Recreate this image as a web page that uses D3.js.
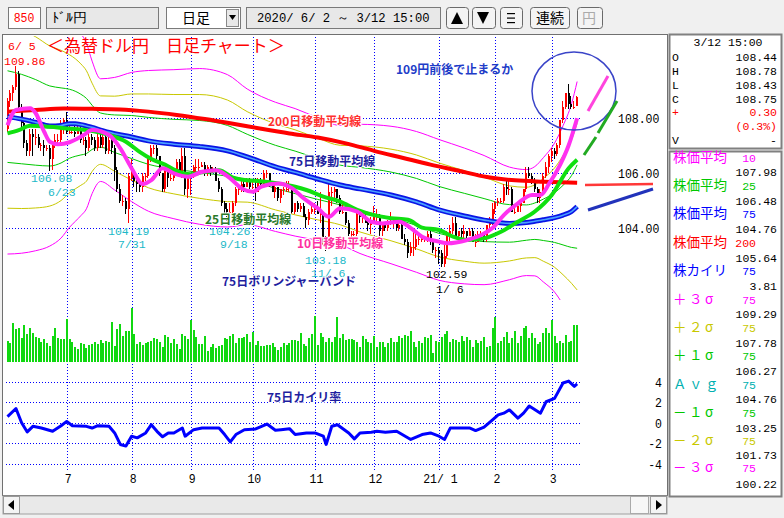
<!DOCTYPE html>
<html><head><meta charset="utf-8">
<script src="https://cdn.jsdelivr.net/npm/d3@7"></script>
<style>body{margin:0;background:#f0f0f0;}svg{display:block}</style>
</head><body><svg id="c" width="784" height="518"></svg>
<script>
// ---------------- DATA ----------------
// OHLC per trading day, 2020/6/2 .. 2021/3/12
const ohlc = [
// Jun
[107.6,108.7,107.5,108.6],[108.6,109.0,108.4,108.9],[108.9,109.2,108.6,109.1],[109.1,109.86,109.0,109.6],[109.6,109.7,108.3,108.4],
[108.4,108.5,107.6,107.8],[107.8,107.9,106.9,107.1],[107.1,107.2,106.6,106.8],[106.8,107.6,106.6,107.4],[107.4,107.6,106.6,107.3],
[107.3,107.6,107.0,107.3],[107.3,107.4,106.9,107.0],[107.0,107.1,106.8,107.0],[107.0,107.2,106.6,106.9],[106.9,107.0,106.8,106.9],
[106.9,107.0,106.08,106.5],[106.5,107.0,106.1,107.0],[107.0,107.4,106.9,107.2],[107.2,107.4,107.0,107.2],[107.2,107.9,107.0,107.6],[107.6,108.0,107.4,107.9],
// Jul
[107.9,108.2,107.4,107.5],[107.5,107.7,107.4,107.5],[107.5,107.6,107.4,107.5],[107.5,107.8,107.3,107.4],[107.4,107.8,107.4,107.6],
[107.6,107.7,107.1,107.2],[107.2,107.4,107.0,107.2],[107.2,107.3,106.6,106.9],[106.9,107.6,106.8,107.3],[107.3,107.4,107.0,107.2],
[107.2,107.3,106.8,106.9],[106.9,107.4,106.8,107.3],[107.3,107.4,106.9,107.0],[107.0,107.4,106.9,107.3],[107.3,107.4,106.7,106.8],
[106.8,107.3,106.7,107.2],[107.2,107.3,106.7,106.9],[106.9,107.0,105.7,106.1],[106.1,106.2,105.3,105.4],[105.4,105.6,104.9,105.0],
[105.0,105.2,104.8,105.0],[105.0,105.1,104.5,104.7],[104.7,106.0,104.19,105.9],
// Aug
[105.8,106.5,105.7,106.0],[106.0,106.1,105.5,105.7],[105.7,105.9,105.3,105.6],[105.6,105.7,105.3,105.5],[105.5,106.0,105.3,105.9],
[105.9,106.0,105.7,105.9],[105.9,106.6,105.8,106.5],[106.5,107.0,106.4,106.9],[106.9,107.0,106.7,106.9],[106.9,107.0,106.5,106.6],
[106.6,106.6,105.9,106.0],[106.0,106.0,105.3,105.4],[105.4,106.2,105.3,106.1],[106.1,106.1,105.5,105.8],[105.8,106.0,105.7,105.8],
[105.8,106.1,105.7,106.0],[106.0,106.5,105.9,106.4],[106.4,106.5,105.9,106.0],[106.0,106.9,105.8,106.6],[106.6,106.9,105.2,105.4],[105.4,105.9,105.1,105.9],
// Sep
[105.9,106.0,105.2,105.9],[105.9,106.3,105.8,106.2],[106.2,106.5,106.0,106.2],[106.2,106.5,106.0,106.2],[106.2,106.4,106.2,106.3],
[106.3,106.4,105.9,106.0],[106.0,106.3,105.9,106.2],[106.2,106.3,105.9,106.1],[106.1,106.2,106.0,106.1],[106.1,106.2,105.7,105.7],
[105.7,105.8,105.3,105.4],[105.4,105.5,104.8,104.9],[104.9,105.0,104.5,104.7],[104.7,104.9,104.26,104.6],[104.6,104.9,104.3,104.6],
[104.6,105.0,104.5,104.9],[104.9,105.5,104.8,105.4],[105.4,105.5,105.2,105.4],[105.4,105.7,105.3,105.6],[105.6,105.7,105.3,105.5],
[105.5,105.8,105.5,105.7],[105.7,105.8,105.4,105.5],
// Oct
[105.5,105.7,105.4,105.5],[105.5,105.8,105.0,105.3],[105.3,105.8,105.3,105.7],[105.7,105.8,105.5,105.6],[105.6,106.1,105.6,106.0],
[106.0,106.1,105.8,106.0],[106.0,106.0,105.5,105.6],[105.6,105.6,105.3,105.3],[105.3,105.6,105.1,105.5],[105.5,105.5,105.0,105.1],
[105.1,105.4,104.9,105.4],[105.4,105.5,105.2,105.4],[105.4,105.7,105.3,105.4],[105.4,105.7,105.3,105.5],[105.5,105.5,104.5,104.6],
[104.6,104.9,104.5,104.9],[104.9,105.0,104.6,104.7],[104.7,104.9,104.6,104.8],[104.8,104.9,104.4,104.4],[104.4,104.5,104.0,104.3],
[104.3,104.7,104.1,104.6],[104.6,104.9,104.5,104.7],
// Nov
[104.7,104.9,104.5,104.7],[104.7,105.0,104.5,104.5],[104.5,105.3,104.2,104.5],[104.5,104.6,103.4,103.5],[103.5,103.7,103.18,103.4],
[103.4,105.65,103.2,105.3],[105.3,105.5,104.8,105.3],[105.3,105.5,105.1,105.4],[105.4,105.4,104.9,105.1],[105.1,105.2,104.5,104.6],
[104.6,104.9,104.5,104.6],[104.6,104.6,104.1,104.2],[104.2,104.3,103.7,103.8],[103.8,103.9,103.6,103.8],[103.8,103.9,103.7,103.8],
[103.8,104.6,103.7,104.5],[104.5,104.7,104.2,104.4],[104.4,104.6,104.2,104.4],[104.4,104.5,104.2,104.2],[104.2,104.3,103.9,104.1],[104.1,104.4,103.8,104.3],
// Dec
[104.3,104.8,104.2,104.4],[104.4,104.7,104.2,104.4],[104.4,104.5,103.7,103.9],[103.9,104.2,103.7,104.2],[104.2,104.2,103.9,104.0],
[104.0,104.3,103.9,104.2],[104.2,104.6,104.1,104.2],[104.2,104.4,104.0,104.3],[104.3,104.3,103.9,104.0],[104.0,104.2,103.9,104.1],
[104.1,104.2,103.6,103.6],[103.6,103.8,103.4,103.5],[103.5,103.6,102.9,103.1],[103.1,103.5,103.0,103.3],[103.3,103.9,103.0,103.3],
[103.3,103.8,103.2,103.6],[103.6,103.7,103.4,103.6],[103.6,103.7,103.5,103.6],[103.6,103.7,103.5,103.6],[103.6,103.9,103.5,103.8],
[103.8,103.9,103.4,103.5],[103.5,103.6,103.1,103.2],[103.2,103.3,102.9,103.2],
// Jan
[103.2,103.3,102.7,103.1],[103.1,103.2,102.6,102.7],[102.7,103.4,102.59,103.0],[103.0,103.9,102.9,103.8],[103.8,104.1,103.5,103.9],
[103.9,104.4,103.8,104.2],[104.2,104.4,103.6,103.7],[103.7,103.9,103.5,103.9],[103.9,104.0,103.6,103.8],[103.8,104.1,103.6,103.9],
[103.9,103.9,103.5,103.7],[103.7,104.0,103.7,103.9],[103.9,104.0,103.5,103.5],[103.5,103.8,103.3,103.5],[103.5,103.9,103.5,103.8],
[103.8,103.9,103.6,103.8],[103.8,103.8,103.5,103.6],[103.6,104.1,103.5,104.1],[104.1,104.4,104.0,104.2],[104.2,104.9,104.1,104.7],
// Feb
[104.7,105.0,104.5,104.9],[104.9,105.1,104.8,105.0],[105.0,105.1,104.9,105.0],[105.0,105.6,104.9,105.5],[105.5,105.8,105.2,105.4],
[105.4,105.7,105.2,105.4],[105.4,105.5,104.6,104.6],[104.6,104.8,104.5,104.6],[104.6,104.9,104.6,104.8],[104.8,105.0,104.6,104.9],
[104.9,105.4,104.9,105.4],[105.4,106.2,105.3,106.0],[106.0,106.2,105.8,105.9],[105.9,106.0,105.6,105.7],[105.7,105.8,105.3,105.4],
[105.4,105.5,104.9,105.1],[105.1,105.4,104.9,105.3],[105.3,106.0,105.2,105.9],[105.9,106.4,105.8,106.2],[106.2,106.7,106.0,106.6],
// Mar
[106.6,106.9,106.4,106.8],[106.8,106.9,106.5,106.7],[106.7,107.1,106.6,107.0],[107.0,107.9,106.9,107.9],[107.9,108.6,107.8,108.4],
[108.4,108.9,108.3,108.9],[108.9,109.23,108.3,108.5],[108.5,108.8,108.3,108.4],[108.4,108.6,108.3,108.4],[108.44,108.78,108.43,108.75]
];
const volume = [
62,56,116,98,101,71,110,83,101,86,74,71,59,68,56,47,77,101,71,68,68,128,
68,59,44,38,56,53,41,50,53,59,53,65,56,62,60,119,47,98,113,77,92,92,
161,
83,53,59,50,56,59,62,71,68,59,44,80,74,55,68,53,38,83,77,68,
125,
95,74,53,53,77,32,44,53,41,47,50,71,68,77,83,56,71,71,74,83,60,89,50,62,47,47,50,50,56,44,35,44,56,50,56,65,65,62,86,53,47,71,83,
137,
50,86,74,60,70,
60,75,133,72,82,65,67,68,64,59,45,77,68,60,55,
77,45,58,60,45,57,70,58,60,77,70,80,77,92,60,45,62,55,75,70,80,25,62,
60,75,82,92,58,68,65,60,77,62,75,65,45,65,57,62,75,45,48,102,
133,57,63,75,88,57,72,92,57,77,100,107,70,85,70,52,60,85,102,85,
125,77,57,63,57,80,60,63,110,110
];
// moving averages, [bar index, value]
const ma200 = [[0,108.22],[10,108.28],[20,108.33],[30,108.32],[40,108.3],[50,108.22],[60,108.1],[70,107.95],[80,107.78],[90,107.6],[100,107.43],[110,107.28],[120,107.07],[130,106.8],[140,106.55],[150,106.3],[160,106.08],[170,105.85],[180,105.73],[190,105.68],[202,105.64]];
const ma25 = [[0,107.43],[4,107.55],[8,107.71],[15,107.67],[21,107.61],[28,107.55],[36,107.37],[42,107.13],[47,106.75],[51,106.5],[56,106.29],[59,106.12],[65,105.95],[69,106.02],[75,106.1],[80,105.83],[84,105.74],[90,105.7],[96,105.62],[102,105.5],[106,105.38],[112,105.14],[118,104.96],[124,104.66],[130,104.47],[136,104.36],[142,104.3],[147,104.02],[153,103.93],[158,103.69],[163,103.57],[169,103.63],[175,103.87],[181,104.23],[187,104.6],[193,105.2],[199,106.17],[202,106.48]];
const ma10 = [[0,107.73],[3,108.28],[8,108.34],[10,108.16],[13,107.49],[15,107.13],[18,107.04],[22,107.11],[27,107.37],[30,107.55],[36,107.37],[40,106.89],[44,106.17],[48,105.6],[51,105.74],[55,106.17],[59,105.98],[64,105.86],[69,106.04],[74,106.1],[79,105.8],[83,105.44],[87,105.32],[90,105.5],[96,105.62],[101,105.44],[105,105.08],[110,104.72],[114,104.41],[118,104.72],[124,104.6],[129,104.23],[133,104.17],[139,104.23],[143,104.0],[147,103.69],[153,103.51],[156,103.45],[163,103.57],[168,103.75],[172,104.0],[176,104.47],[181,104.9],[186,105.2],[189,105.2],[192,105.6],[196,106.3],[199,107.0],[202,107.98]];
// 75-day average (Bollinger centre) and 75-day sigma at the same bars
const bbIdx  = [0,5,10,15,19,22,24,26,28,30,33,38,44,50,59,68,78,85,95,102,110,118,125,136,145,153,162,169,178,184,187,190,194,197,200,202];
const ma75   = [108.04,107.95,107.83,107.7,107.72,107.78,107.78,107.75,107.7,107.65,107.55,107.42,107.3,107.16,107.04,106.96,106.8,106.58,106.22,106.02,105.78,105.56,105.42,105.2,104.95,104.66,104.44,104.29,104.17,104.2,104.25,104.3,104.38,104.47,104.6,104.78];
const sd75   = [1.66,1.62,1.55,1.45,1.36,1.25,1.18,1.1,1.0,0.8,0.62,0.68,0.78,0.85,0.9,0.94,0.92,0.82,0.78,0.77,0.74,0.72,0.78,0.83,0.85,0.85,0.82,0.78,0.68,0.64,0.66,0.75,0.9,1.08,1.3,1.51];
// 75-day deviation (%)
const dev75 = [[0,0.6],[3,1.4],[5,0],[7,-0.9],[9,-0.35],[12,-0.52],[16,-0.84],[19,-0.29],[21,0.13],[23,-0.29],[28,-0.35],[30,-0.52],[32,-0.29],[36,-0.35],[38,-1.0],[40,-2.13],[42,-2.29],[44,-1.32],[46,-1.48],[49,-1.0],[51,-0.19],[53,-0.84],[55,-1.38],[57,-1.0],[59,-1.0],[62,-0.52],[63,-1.32],[66,-0.68],[69,-0.52],[75,-0.52],[77,-1.16],[79,-1.87],[81,-1.16],[84,-0.68],[88,-0.61],[92,-0.13],[95,-0.74],[97,-0.68],[100,-0.58],[102,-1.16],[106,-1.0],[109,-1.0],[112,-1.32],[113,-2.13],[115,-0.35],[117,-0.19],[121,-1.0],[123,-1.58],[125,-1.0],[129,-0.93],[131,-0.84],[134,-0.93],[138,-0.84],[143,-1.64],[147,-1.16],[150,-1.0],[153,-1.32],[155,-1.64],[157,-0.52],[164,-0.52],[166,-0.77],[169,-0.42],[172,0.29],[174,0.77],[176,0.94],[178,1.26],[181,0.45],[183,0.94],[185,1.64],[189,0.94],[191,2.06],[194,2.39],[197,3.9],[199,4.09],[201,3.57],[202,3.81]];
const priceTicks = [108,106,104];
const devTicks = [4,2,0,-2,-4];
const monthLabels = ["7","8","9","10","11","12","21/ 1","2","3"];
const lowHighMarks = [
  {i:3, v:"109.86", d:"6/ 5"},{i:15,v:"106.08",d:"6/23"},{i:43,v:"104.19",d:"7/31"},
  {i:78,v:"104.26",d:"9/18"},{i:113,v:"103.18",d:"11/ 6"},{i:155,v:"102.59",d:"1/ 6"}];
const panelInfo = {date:"3/12 15:00", rows:[["O","108.44"],["H","108.78"],["L","108.43"],["C","108.75"]], chg:"0.30", pct:"(0.3%)"};
const panelInd = [
  ["株価平均","10","107.98","#ff00ff"],["株価平均","25","106.48","#00c800"],["株価平均","75","104.76","#0000ff"],
  ["株価平均","200","105.64","#ff0000"],["株カイリ","75","3.81","#0000ff"],
  ["＋３σ","75","109.29","#ff00ff"],["＋２σ","75","107.78","#c8c800"],["＋１σ","75","106.27","#00c800"],
  ["Ａｖｇ","75","104.76","#00b0b0"],["－１σ","75","103.25","#00c800"],["－２σ","75","101.73","#c8c800"],["－３σ","75","100.22","#ff00ff"]];

// trading-day categories (weekdays, 1/1 excluded)
const dates = [];
for (let d = new Date(Date.UTC(2020,5,2)); d <= new Date(Date.UTC(2021,2,12)); d.setUTCDate(d.getUTCDate()+1)) {
  const w = d.getUTCDay(); if (w===0||w===6) continue;
  if (d.getUTCFullYear()===2021 && d.getUTCMonth()===0 && d.getUTCDate()===1) continue;
  dates.push(new Date(d));
}

// ---------------- DRAW ----------------
const svg = d3.select('#c');
const N = ohlc.length;
const x = d3.scaleLinear().domain([0, N-1]).range([7.5, 7.5+2.82*(N-1)]);
const y = d3.scaleLinear().domain([104,108]).range([228.1,117.7]);
const yd = d3.scaleLinear().domain([-4,4]).range([463.5,382]);
const yv = d3.scaleLinear().domain([0,161]).range([361.7,308]);

function units(s){let u=0;for(const ch of s){const c=ch.codePointAt(0);u+=(c>0x2E80&&!(c>=0xFF61&&c<=0xFF9F))?2:1;}return u;}
function mono(g,x0,y0,s,color,anchor,sy){
  const cw=6.9, w=units(s)*cw; sy=sy||1.15;
  let xs=x0; if(anchor==='end') xs=x0-w; else if(anchor==='middle') xs=x0-w/2;
  return g.append('text').attr('transform',`translate(${xs},${y0}) scale(1,${sy})`).attr('x',0).attr('y',0).attr('fill',color||'#000')
    .attr('font-family','"Liberation Mono","DejaVu Sans Mono",monospace').attr('font-size',11.5)
    .attr('textLength',w).attr('lengthAdjust','spacingAndGlyphs').text(s);
}
function jp(g,x0,y0,s,color,size,weight){
  return g.append('text').attr('x',x0).attr('y',y0).attr('fill',color)
   .attr('font-family','"Noto Sans CJK JP","Noto Sans CJK SC",sans-serif').attr('font-size',size||14)
   .attr('font-weight',weight||'normal').text(s);
}

svg.append('rect').attr('width',784).attr('height',518).attr('fill','#f0f0f0');
// ---- toolbar
const tb = svg.append('g');
function box(x0,y0,w,h,fill){ tb.append('rect').attr('x',x0+.5).attr('y',y0+.5).attr('width',w).attr('height',h).attr('fill',fill).attr('stroke','#7a7a7a'); }
function btn(x0,y0,w,h){ tb.append('rect').attr('x',x0+.5).attr('y',y0+.5).attr('width',w).attr('height',h).attr('rx',3).attr('fill','#f4f4f4').attr('stroke','#6a6a6a'); }
box(8,7,32,21,'#fff'); mono(tb,24,22,"850","#ff0000",'middle');
box(46,7,112,21,'#e8e8e8'); mono(tb,52,22,"ﾄﾞﾙ円","#000");
box(166,7,74,21,'#fff'); jp(tb,182,23,"日足","#000",14);
tb.append('rect').attr('x',226.5).attr('y',9.5).attr('width',12).attr('height',17).attr('fill','#e8e8e8').attr('stroke','#888');
tb.append('path').attr('d','M229,15 L236,15 L232.5,20 Z').attr('fill','#000');
box(246,7,194,21,'#e8e8e8'); mono(tb,257,22,"2020/ 6/ 2 ～  3/12 15:00","#000");
btn(446,7,22,21); tb.append('path').attr('d','M451,24 L463,24 L457,12 Z').attr('fill','#000');
btn(472,7,23,21); tb.append('path').attr('d','M477,12 L489,12 L483,24 Z').attr('fill','#000');
btn(500,7,22,21); [13,17.5,22].forEach(yy=>tb.append('rect').attr('x',507).attr('y',yy).attr('width',8).attr('height',1.2).attr('fill','#000'));
btn(530,7,39,21); jp(tb,536,23,"連続","#000",14);
btn(577,7,25,21); jp(tb,582,23,"円","#aaaaaa",14);

// ---- frames
svg.append('rect').attr('x',2.5).attr('y',34.5).attr('width',665).attr('height',461).attr('fill','#fff').attr('stroke','#707070');
svg.append('rect').attr('x',669.5).attr('y',34.5).attr('width',112).attr('height',114).attr('fill','#fff').attr('stroke','#808080').attr('stroke-width',2);
svg.append('rect').attr('x',669.5).attr('y',151.5).attr('width',112).attr('height',345).attr('fill','#fff').attr('stroke','#808080').attr('stroke-width',2);
// scrollbar
const sb = svg.append('g');
sb.append('rect').attr('x',3).attr('y',496).attr('width',664).attr('height',18).attr('fill','#e9e9e9').attr('stroke','#a0a0a0');
sb.append('rect').attr('x',3.5).attr('y',496.5).attr('width',16).attr('height',17).attr('fill','#f4f4f4').attr('stroke','#999');
sb.append('path').attr('d','M8,505 L14,500 L14,510 Z').attr('fill','#000');
sb.append('rect').attr('x',630.5).attr('y',496.5).attr('width',18).attr('height',17).attr('fill','#f7f7f7').attr('stroke','#aaa');
sb.append('rect').attr('x',650.5).attr('y',496.5).attr('width',16).attr('height',17).attr('fill','#f4f4f4').attr('stroke','#999');
sb.append('path').attr('d','M662,505 L656,500 L656,510 Z').attr('fill','#000');

// ---- grid
const grid = svg.append('g').attr('stroke','#0000ff').attr('stroke-dasharray','1,2').attr('shape-rendering','crispEdges');
const monthIdx = dates.map((d,i)=>i).filter(i=>i>0 && dates[i].getUTCMonth()!==dates[i-1].getUTCMonth());
monthIdx.forEach(i=>grid.append('line').attr('x1',Math.round(x(i))+.5).attr('x2',Math.round(x(i))+.5).attr('y1',37).attr('y2',470));
priceTicks.forEach(p=>grid.append('line').attr('x1',6).attr('x2',582).attr('y1',Math.round(y(p))+.5).attr('y2',Math.round(y(p))+.5));
devTicks.forEach(p=>grid.append('line').attr('x1',6).attr('x2',582).attr('y1',Math.round(yd(p))+.5).attr('y2',Math.round(yd(p))+.5));

// ---- main panel
svg.append('clipPath').attr('id','mc').append('rect').attr('x',3).attr('y',36).attr('width',580).attr('height',264);
const main = svg.append('g').attr('clip-path','url(#mc)');
const line = d3.line().x(d=>x(d[0])).y(d=>y(d[1])).curve(d3.curveMonotoneX);
const bands = [[3,'#ff00ff'],[2,'#c8c800'],[1,'#00c800'],[-1,'#00c800'],[-2,'#c8c800'],[-3,'#ff00ff']];
bands.forEach(([k,c])=>{
  const pts = bbIdx.map((ix,j)=>[ix, ma75[j]+k*sd75[j]]);
  main.append('path').attr('d',line(pts)).attr('fill','none').attr('stroke',c).attr('stroke-width',1);
});
// candles
const cg = main.append('g').attr('shape-rendering','crispEdges');
ohlc.forEach((d,i)=>{
  const [o,h,l,c]=d; const col = c>=o ? '#ff0000' : '#000000';
  const cx = Math.round(x(i));
  cg.append('rect').attr('x',cx-1).attr('y',y(h)).attr('width',1).attr('height',Math.max(1,y(l)-y(h))).attr('fill',col);
  const t=Math.min(y(o),y(c)), b=Math.max(y(o),y(c));
  cg.append('rect').attr('x',cx-1).attr('y',t).attr('width',2).attr('height',Math.max(1,b-t)).attr('fill',col);
});
main.append('path').attr('d',line(ma200)).attr('fill','none').attr('stroke','#ff0000').attr('stroke-width',4);
const ma75pts = bbIdx.map((ix,j)=>[ix,ma75[j]]);
main.append('path').attr('d',line(ma75pts)).attr('fill','none').attr('stroke','#0a14e6').attr('stroke-width',5);
main.append('path').attr('d',line(ma75pts)).attr('fill','none').attr('stroke','#4aa0ff').attr('stroke-width',1.6);
main.append('path').attr('d',line(ma25)).attr('fill','none').attr('stroke','#10e010').attr('stroke-width',4);
main.append('path').attr('d',line(ma10)).attr('fill','none').attr('stroke','#ff30f0').attr('stroke-width',4);

// high/low marks
const cyan = '#20b8c8';
const mk = svg.append('g');
mono(mk,8,50,lowHighMarks[0].d,'#ff0000',null,1); mono(mk,4,65,lowHighMarks[0].v,'#ff0000',null,1);
mono(mk,31,182,lowHighMarks[1].v,cyan,null,1); mono(mk,48,196,lowHighMarks[1].d,cyan,null,1);
mono(mk,108,235,lowHighMarks[2].v,cyan,null,1); mono(mk,118,248,lowHighMarks[2].d,cyan,null,1);
mono(mk,209,235,lowHighMarks[3].v,cyan,null,1); mono(mk,220,248,lowHighMarks[3].d,cyan,null,1);
mono(mk,305,264,lowHighMarks[4].v,cyan,null,1); mono(mk,311,277,lowHighMarks[4].d,cyan,null,1);
mono(mk,426,278,lowHighMarks[5].v,'#000',null,1); mono(mk,436,293,lowHighMarks[5].d,'#000',null,1);

// title & annotations
jp(svg,47,52,"＜為替ドル円　日足チャート＞","#ff0000",17);
function note(x0,y0,s,c){ jp(svg,x0,y0,s,c,12,'bold').attr('stroke','#fff').attr('stroke-width',2).attr('paint-order','stroke'); }
note(396,74,"109円前後で止まるか","#1e3cc8");
note(268,126,"200日移動平均線","#ff3030");
note(289,166,"75日移動平均線","#1e1ea0");
note(205,224,"25日移動平均線","#2a7a2a");
note(297,248,"10日移動平均線","#ff30a0");
note(222,286,"75日ボリンジャーバンド","#1e1ea0");
note(267,402,"75日カイリ率","#1e1ea0");
svg.append('ellipse').attr('cx',574).attr('cy',91).attr('rx',42).attr('ry',39).attr('fill','none').attr('stroke','#3a44c8').attr('stroke-width',1.5);
svg.append('line').attr('x1',588).attr('y1',111).attr('x2',608).attr('y2',76).attr('stroke','#ff44dd').attr('stroke-width',3);
svg.append('line').attr('x1',584).attr('y1',155).attr('x2',596).attr('y2',137).attr('stroke','#22aa22').attr('stroke-width',3);
svg.append('line').attr('x1',598).attr('y1',133).attr('x2',617).attr('y2',101).attr('stroke','#22aa22').attr('stroke-width',3);
svg.append('line').attr('x1',585).attr('y1',185).attr('x2',653).attr('y2',184).attr('stroke','#ff3838').attr('stroke-width',2.5);
svg.append('line').attr('x1',588).attr('y1',210).attr('x2',653).attr('y2',189).attr('stroke','#2233bb').attr('stroke-width',3);

// price axis labels
priceTicks.forEach(p=>mono(svg,618,y(p)+5,p.toFixed(2),'#000'));

// ---- volume
const vg = svg.append('g').attr('shape-rendering','crispEdges');
volume.forEach((v,i)=>vg.append('rect').attr('x',Math.round(x(i))-1).attr('y',yv(v)).attr('width',2).attr('height',yv(0)-yv(v)).attr('fill','#10d810'));

// ---- deviation
const dl = d3.line().x(d=>x(d[0])).y(d=>yd(d[1]));
svg.append('path').attr('d',dl(dev75)).attr('fill','none').attr('stroke','#0000ff').attr('stroke-width',3).attr('stroke-linejoin','round');
devTicks.forEach(t=>mono(svg,662,yd(t)+5,String(t),'#000','end'));

// month labels
monthIdx.forEach((i,k)=>mono(svg,x(i)+1.5,483,monthLabels[k],'#000','middle'));

// ---- right panel
const rp = svg.append('g');
mono(rp,728,46,panelInfo.date,'#000','middle',1);
panelInfo.rows.forEach((r,k)=>{ mono(rp,672,61+k*14,r[0],'#000',null,1); mono(rp,777,61+k*14,r[1],'#000','end',1); });
mono(rp,672,116,'+','#ff0000',null,1); mono(rp,777,116,panelInfo.chg,'#ff0000','end',1);
mono(rp,777,130,panelInfo.pct,'#ff0000','end',1);
mono(rp,672,144,'V','#000',null,1); mono(rp,777,144,'-','#000','end',1);
const rowY = [162,190,218,247,275,304,332,360,389,417,445,472];
const valY = [176,205,233,262,290,318,347,375,403,432,459,488];
panelInd.forEach((r,k)=>{
  if (k<5) jp(rp,673,rowY[k],r[0],r[3],13.5);
  else { const ch=[...r[0]]; ch.forEach((c,j)=>jp(rp,673+j*16,rowY[k],c,r[3],13.5)); }
  mono(rp,756,rowY[k],r[1],r[3],'end',1);
  mono(rp,777,valY[k],r[2],'#000','end',1);
});
</script></body></html>
